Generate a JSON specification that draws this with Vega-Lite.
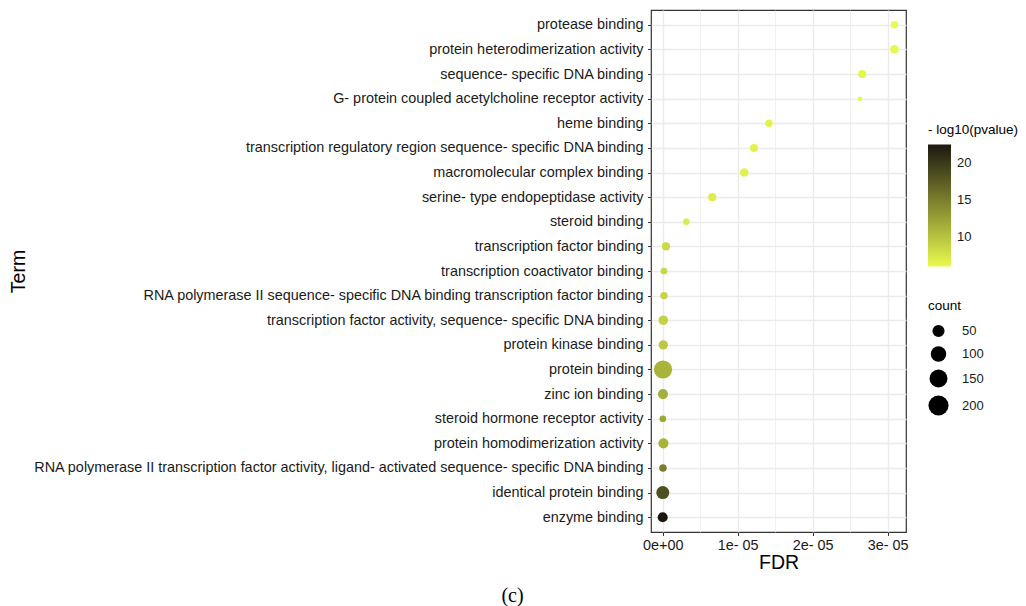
{
  "$schema": "https://vega.github.io/schema/vega-lite/v6.json",
  "autosize": {"type": "none"},
  "width": 255,
  "height": 522,
  "padding": {"left": 651, "top": 10, "right": 120, "bottom": 74},
  "background": "white",
  "config": {
    "font": "Liberation Sans",
    "view": {"stroke": "#333333", "strokeWidth": 1.2},
    "axis": {
      "domain": false,
      "tickColor": "#333333",
      "tickSize": 3.5,
      "labelColor": "#1a1a1a",
      "labelFontSize": 14.4,
      "labelPadding": 4.5,
      "titleFontSize": 19.5,
      "titleFontWeight": "normal",
      "titleColor": "#000000",
      "gridColor": "#EBEBEB",
      "gridWidth": 1.4
    },
    "legend": {
      "titleFontSize": 13.5,
      "titleFontWeight": "normal",
      "titleColor": "#000000",
      "labelFontSize": 13,
      "labelColor": "#1a1a1a"
    }
  },
  "title": {
    "text": "(c)",
    "orient": "bottom",
    "font": "Liberation Serif",
    "fontSize": 20,
    "fontWeight": "normal",
    "color": "#000000",
    "anchor": "middle",
    "frame": "group",
    "dx": -266,
    "offset": 14
  },
  "data": {
    "values": [
      {"Term": "protease binding", "FDR": 3.09e-5, "count": 10, "logp": 6.05},
      {"Term": "protein heterodimerization activity", "FDR": 3.09e-5, "count": 17, "logp": 6.1},
      {"Term": "sequence- specific DNA binding", "FDR": 2.66e-5, "count": 14, "logp": 6.3},
      {"Term": "G- protein coupled acetylcholine receptor activity", "FDR": 2.63e-5, "count": 3, "logp": 6.3},
      {"Term": "heme binding", "FDR": 1.417e-5, "count": 10, "logp": 6.5},
      {"Term": "transcription regulatory region sequence- specific DNA binding", "FDR": 1.217e-5, "count": 13, "logp": 6.6},
      {"Term": "macromolecular complex binding", "FDR": 1.088e-5, "count": 16, "logp": 6.7},
      {"Term": "serine- type endopeptidase activity", "FDR": 6.61e-6, "count": 14, "logp": 6.9},
      {"Term": "steroid binding", "FDR": 3.15e-6, "count": 6, "logp": 7.1},
      {"Term": "transcription factor binding", "FDR": 4.4e-7, "count": 14, "logp": 8.4},
      {"Term": "transcription coactivator binding", "FDR": 1.7e-7, "count": 7, "logp": 8.6},
      {"Term": "RNA polymerase II sequence- specific DNA binding transcription factor binding", "FDR": 1.7e-7, "count": 10, "logp": 8.7},
      {"Term": "transcription factor activity, sequence- specific DNA binding", "FDR": 8e-8, "count": 24, "logp": 8.9},
      {"Term": "protein kinase binding", "FDR": 8e-8, "count": 22, "logp": 9.6},
      {"Term": "protein binding", "FDR": 4e-8, "count": 155, "logp": 11.1},
      {"Term": "zinc ion binding", "FDR": 4e-8, "count": 28, "logp": 11.5},
      {"Term": "steroid hormone receptor activity", "FDR": 2e-8, "count": 7, "logp": 12.0},
      {"Term": "protein homodimerization activity", "FDR": 1e-7, "count": 28, "logp": 11.2},
      {"Term": "RNA polymerase II transcription factor activity, ligand- activated sequence- specific DNA binding", "FDR": 4e-8, "count": 10, "logp": 15.0},
      {"Term": "identical protein binding", "FDR": 1e-8, "count": 62, "logp": 18.4},
      {"Term": "enzyme binding", "FDR": 1e-9, "count": 28, "logp": 22.46}
    ]
  },
  "mark": {"type": "circle", "opacity": 1, "color": "#000000"},
  "encoding": {
    "x": {
      "field": "FDR",
      "type": "quantitative",
      "scale": {"domain": [-1.56e-6, 3.244e-5], "nice": false, "zero": false},
      "axis": {
        "title": "FDR",
        "values": [0, 5e-6, 1e-5, 1.5e-5, 2e-5, 2.5e-5, 3e-5],
        "labelExpr": "abs(datum.value*1e5 - round(datum.value*1e5)) > 0.1 ? '' : (datum.value == 0 ? '0e+00' : round(datum.value*1e5) + 'e- 05')",
        "tickOpacity": {"condition": {"test": "abs(datum.value*1e5 - round(datum.value*1e5)) > 0.1", "value": 0}, "value": 1},
        "gridWidth": {"condition": {"test": "abs(datum.value*1e5 - round(datum.value*1e5)) > 0.1", "value": 0.7}, "value": 1.4},
        "labelFlush": false,
        "labelOverlap": false,
        "labelPadding": 3,
        "titlePadding": 2
      }
    },
    "y": {
      "field": "Term",
      "type": "nominal",
      "sort": null,
      "scale": {"type": "point", "padding": 0.6},
      "axis": {
        "title": "Term",
        "grid": true,
        "labelLimit": 700,
        "titleAngle": -90,
        "titleX": -633,
        "titleY": 261,
        "titleAlign": "center",
        "titleBaseline": "middle"
      }
    },
    "color": {
      "field": "logp",
      "type": "quantitative",
      "scale": {"domain": [6.02, 22.46], "range": ["#E8FA4E", "#1C1810"], "interpolate": "rgb", "zero": false, "nice": false},
      "legend": {
        "title": "- log10(pvalue)",
        "orient": "none",
        "legendX": 277,
        "legendY": 113,
        "values": [10, 15, 20],
        "direction": "vertical",
        "gradientLength": 122,
        "gradientThickness": 23,
        "gradientStrokeWidth": 0,
        "labelOffset": 6,
        "titlePadding": 8
      }
    },
    "size": {
      "field": "count",
      "type": "quantitative",
      "scale": {
        "domain": [3, 6, 10, 18, 30, 50, 100, 150, 200],
        "range": [20.4, 41.5, 55.6, 77.8, 105.9, 147.2, 238.9, 323.3, 404.3],
        "zero": false,
        "nice": false
      },
      "legend": {
        "title": "count",
        "orient": "none",
        "legendX": 277,
        "legendY": 289,
        "values": [50, 100, 150, 200],
        "symbolType": "circle",
        "symbolFillColor": "#000000",
        "symbolStrokeWidth": 0,
        "symbolOpacity": 1,
        "labelOffset": 13,
        "rowPadding": 7.5,
        "titlePadding": 12
      }
    }
  }
}
